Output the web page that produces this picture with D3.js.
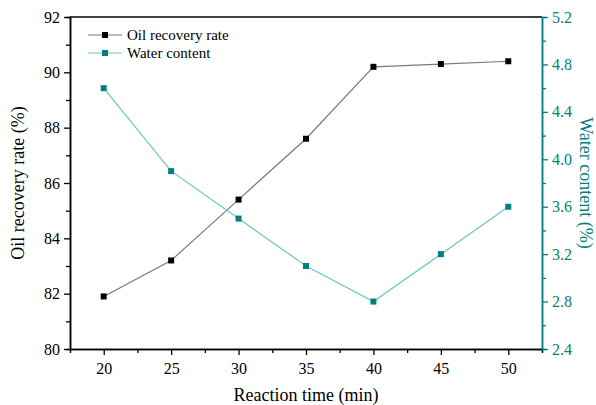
<!DOCTYPE html>
<html>
<head>
<meta charset="utf-8">
<script src="https://cdn.jsdelivr.net/npm/d3@7"></script>
<style>
  body { margin: 0; background: #fff; }
  svg text { font-family: "Liberation Serif", "Times New Roman", Times, "DejaVu Serif", serif !important; }
</style>
</head>
<body>
<svg id="chart" width="596" height="405"></svg>
<script>
// Reaction time (min) and measured results
const times = [20, 25, 30, 35, 40, 45, 50];
const oilRecovery = [81.9, 83.2, 85.4, 87.6, 90.2, 90.3, 90.4];
const waterContent = [4.6, 3.9, 3.5, 3.1, 2.8, 3.2, 3.6];
const xTicks = [20, 25, 30, 35, 40, 45, 50];
const leftTicks = [80, 82, 84, 86, 88, 90, 92];
const rightTicks = [2.4, 2.8, 3.2, 3.6, 4.0, 4.4, 4.8, 5.2];

const teal = "#008080";
const tealLine = "#6cc4c4";
const margin = { left: 70, right: 54, top: 17, bottom: 56 };
const W = 596, H = 405;

const svg = d3.select("#chart");
const x = d3.scaleLinear().domain([17.5, 52.5]).range([margin.left, W - margin.right]);
const yL = d3.scaleLinear().domain([80, 92]).range([H - margin.bottom, margin.top]);
const yR = d3.scaleLinear().domain([2.4, 5.2]).range([H - margin.bottom, margin.top]);

const x0 = margin.left, x1 = W - margin.right, yB = H - margin.bottom, yT = margin.top;

// frame: top line
svg.append("line").attr("x1", x0).attr("x2", x1).attr("y1", yT).attr("y2", yT)
  .attr("stroke", "#000").attr("stroke-width", 1.5);

function styleAxis(g, color) {
  g.attr("font-family", null);
  g.selectAll("path.domain").attr("stroke", color).attr("stroke-width", 1.5);
  g.selectAll(".tick line").attr("stroke", color).attr("stroke-width", 1.3);
  g.selectAll(".tick text").attr("fill", color).attr("font-size", 16);
}

// bottom axis with major + minor ticks
const xMinor = d3.range(22.5, 50, 5);
svg.append("g").attr("transform", `translate(0,${yB})`)
  .call(d3.axisBottom(x).tickValues(xMinor).tickSize(4).tickFormat(""))
  .call(g => styleAxis(g, "#000"));
svg.append("g").attr("transform", `translate(0,${yB})`)
  .call(d3.axisBottom(x).tickValues(xTicks).tickSize(6).tickPadding(8).tickSizeOuter(0))
  .call(g => styleAxis(g, "#000"));

// left axis
const yLMinor = d3.range(81, 92, 2);
svg.append("g").attr("transform", `translate(${x0},0)`)
  .call(d3.axisLeft(yL).tickValues(yLMinor).tickSize(4).tickFormat(""))
  .call(g => styleAxis(g, "#000"));
svg.append("g").attr("transform", `translate(${x0},0)`)
  .call(d3.axisLeft(yL).tickValues(leftTicks).tickSize(6).tickPadding(4).tickSizeOuter(0))
  .call(g => styleAxis(g, "#000"));

// right axis
const yRMinor = d3.range(2.6, 5.2, 0.4);
svg.append("g").attr("transform", `translate(${x1},0)`)
  .call(d3.axisRight(yR).tickValues(yRMinor).tickSize(4).tickFormat(""))
  .call(g => styleAxis(g, teal));
svg.append("g").attr("transform", `translate(${x1},0)`)
  .call(d3.axisRight(yR).tickValues(rightTicks).tickSize(6).tickPadding(4).tickSizeOuter(0)
    .tickFormat(d3.format(".1f")))
  .call(g => styleAxis(g, teal));

// series
const oilLine = d3.line().x((d, i) => x(times[i])).y(d => yL(d));
const waterLine = d3.line().x((d, i) => x(times[i])).y(d => yR(d));

svg.append("path").datum(oilRecovery).attr("d", oilLine)
  .attr("fill", "none").attr("stroke", "#7a7a7a").attr("stroke-width", 1.2);
svg.append("path").datum(waterContent).attr("d", waterLine)
  .attr("fill", "none").attr("stroke", tealLine).attr("stroke-width", 1.2);

const ms = 6;
svg.append("g").selectAll("rect").data(oilRecovery).join("rect")
  .attr("x", (d, i) => x(times[i]) - ms / 2).attr("y", d => yL(d) - ms / 2)
  .attr("width", ms).attr("height", ms).attr("fill", "#000");
svg.append("g").selectAll("rect").data(waterContent).join("rect")
  .attr("x", (d, i) => x(times[i]) - ms / 2).attr("y", d => yR(d) - ms / 2)
  .attr("width", ms).attr("height", ms).attr("fill", teal);

// legend
const legend = [
  { label: "Oil recovery rate", line: "#7a7a7a", mark: "#000" },
  { label: "Water content", line: tealLine, mark: teal }
];
const lg = svg.append("g");
legend.forEach((d, i) => {
  const yy = 35 + i * 18;
  lg.append("line").attr("x1", 88).attr("x2", 122).attr("y1", yy).attr("y2", yy)
    .attr("stroke", d.line).attr("stroke-width", 1.2);
  lg.append("rect").attr("x", 105 - ms / 2).attr("y", yy - ms / 2)
    .attr("width", ms).attr("height", ms).attr("fill", d.mark);
  lg.append("text").attr("x", 127).attr("y", yy + 5).attr("font-size", 15)
    .attr("fill", "#000").text(d.label);
});

// axis titles
svg.append("text").attr("x", (x0 + x1) / 2).attr("y", 401).attr("text-anchor", "middle")
  .attr("font-size", 18).attr("fill", "#000").text("Reaction time (min)");
svg.append("text").attr("transform", `translate(24,${(yT + yB) / 2}) rotate(-90)`)
  .attr("text-anchor", "middle").attr("font-size", 18).attr("fill", "#000")
  .text("Oil recovery rate (%)");
svg.append("text").attr("transform", `translate(580,${(yT + yB) / 2}) rotate(90)`)
  .attr("text-anchor", "middle").attr("font-size", 18).attr("fill", teal)
  .text("Water content (%)");
</script>
</body>
</html>
